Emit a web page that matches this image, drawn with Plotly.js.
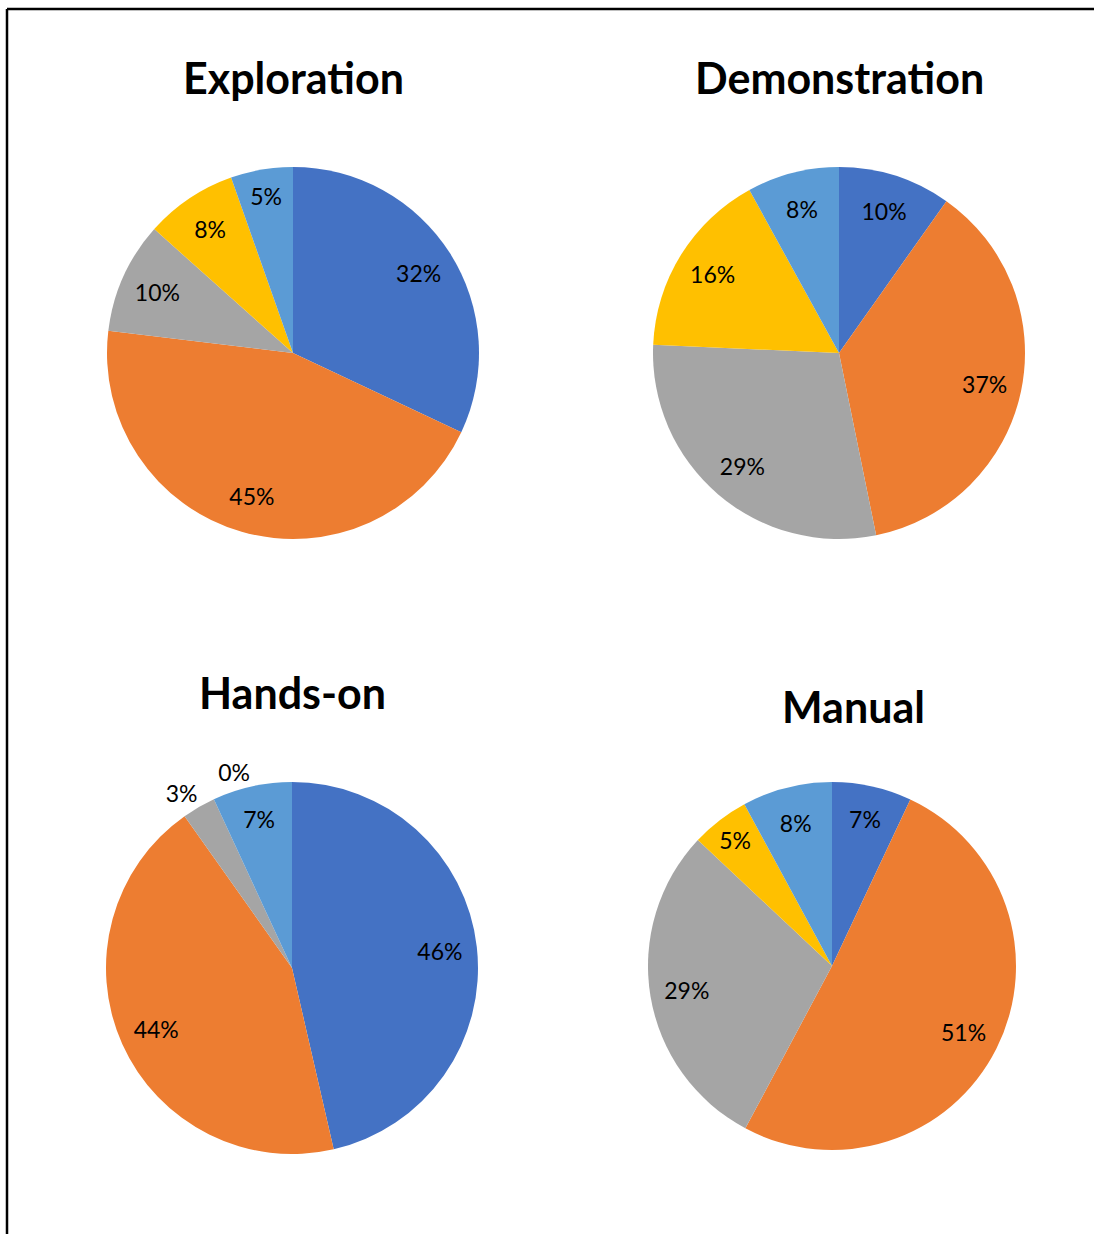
<!DOCTYPE html>
<html>
<head>
<meta charset="utf-8">
<script src="https://cdn.plot.ly/plotly-3.0.1.min.js"></script>
<style>html,body{margin:0;padding:0;background:#fff;}#chart{width:1094px;height:1234px;}</style>
</head>
<body>
<div id="chart"></div>
<script>
// Data
const categories = ["Series A", "Series B", "Series C", "Series D", "Series E"];
const chartTitles = ["Exploration", "Demonstration", "Hands-on", "Manual"];
const explorationValues = [32.0, 44.9, 9.7, 8.0, 5.4];
const demonstrationValues = [9.8, 37.0, 28.9, 16.3, 8.0];
const handsOnValues = [46.4, 43.8, 2.9, 0, 6.9];
const manualValues = [7.0, 50.8, 29.2, 5.1, 7.9];

const sliceColors = ["#4472C4", "#ED7D31", "#A5A5A5", "#FFC000", "#5B9BD5"];
const clearColors = categories.map(() => "rgba(0,0,0,0)");
const W = 1094, H = 1234;
const FONT = "Lato, 'Noto Sans', sans-serif";
const PCT = "%{percent:.0%}";

function px2x(p){ return p / W; }
function px2y(p){ return 1 - p / H; }

// labelGroups: each group is drawn by its own transparent ring so outside labels do not get pushed together
const panels = [
  {values: explorationValues, cx: 293, cy: 353, r: 186, titleY: 77, titleX: 293,
   labelGroups: [{show: [1,1,1,1,1], pos: "inside", turn: 0}]},
  {values: demonstrationValues, cx: 839, cy: 353, r: 186, titleY: 77, titleX: 839,
   labelGroups: [{show: [1,1,1,1,1], pos: "inside", turn: 0}]},
  {values: handsOnValues, cx: 292, cy: 968, r: 186, titleY: 692, titleX: 292,
   labelGroups: [
     {show: [1,1,0,0,1], pos: "inside", turn: 0},
     {show: [0,0,1,0,0], pos: "outside", turn: 2},
     {show: [0,0,0,1,0], pos: "outside", turn: 14}
   ]},
  {values: manualValues, cx: 832, cy: 966, r: 184, titleY: 706, titleX: 853,
   labelGroups: [{show: [1,1,1,1,1], pos: "inside", turn: 0}]}
];

function dom(p){
  return {
    x: [px2x(p.cx - p.r), px2x(p.cx + p.r)],
    y: [px2y(p.cy + p.r), px2y(p.cy - p.r)]
  };
}

const traces = [];
panels.forEach(p => {
  // coloured slices
  traces.push({
    type: "pie",
    labels: categories,
    values: p.values,
    sort: false,
    direction: "clockwise",
    rotation: 0,
    marker: {colors: sliceColors, line: {width: 0}},
    textinfo: "none",
    hoverinfo: "none",
    showlegend: false,
    domain: dom(p)
  });
  // transparent rings carrying the percentage labels near the rim
  p.labelGroups.forEach(g => {
    traces.push({
      type: "pie",
      labels: categories,
      values: p.values,
      sort: false,
      direction: "clockwise",
      rotation: g.turn,
      hole: 0.6,
      marker: {colors: clearColors, line: {width: 0}},
      texttemplate: g.show.map(s => s ? PCT : ""),
      textposition: g.pos,
      insidetextorientation: "horizontal",
      textfont: {family: FONT, size: 23, color: "#000"},
      outsidetextfont: {family: FONT, size: 23, color: "#000"},
      hoverinfo: "none",
      showlegend: false,
      domain: dom(p)
    });
  });
});

const annotations = panels.map((p, i) => ({
  text: "<b>" + chartTitles[i] + "</b>",
  xref: "paper", yref: "paper",
  x: px2x(p.titleX), y: px2y(p.titleY),
  xanchor: "center", yanchor: "middle",
  showarrow: false,
  font: {family: FONT, size: 43, color: "#000"}
}));

const layout = {
  width: W, height: H,
  margin: {l: 0, r: 0, t: 0, b: 0},
  paper_bgcolor: "#fff",
  plot_bgcolor: "#fff",
  annotations: annotations,
  shapes: [
    {type: "line", xref: "paper", yref: "paper", x0: px2x(7), x1: 1, y0: px2y(9), y1: px2y(9), line: {color: "#000", width: 2.5}},
    {type: "line", xref: "paper", yref: "paper", x0: px2x(7), x1: px2x(7), y0: 0, y1: px2y(9), line: {color: "#000", width: 2.5}}
  ]
};

Plotly.newPlot("chart", traces, layout, {staticPlot: true, displayModeBar: false});
</script>
</body>
</html>
